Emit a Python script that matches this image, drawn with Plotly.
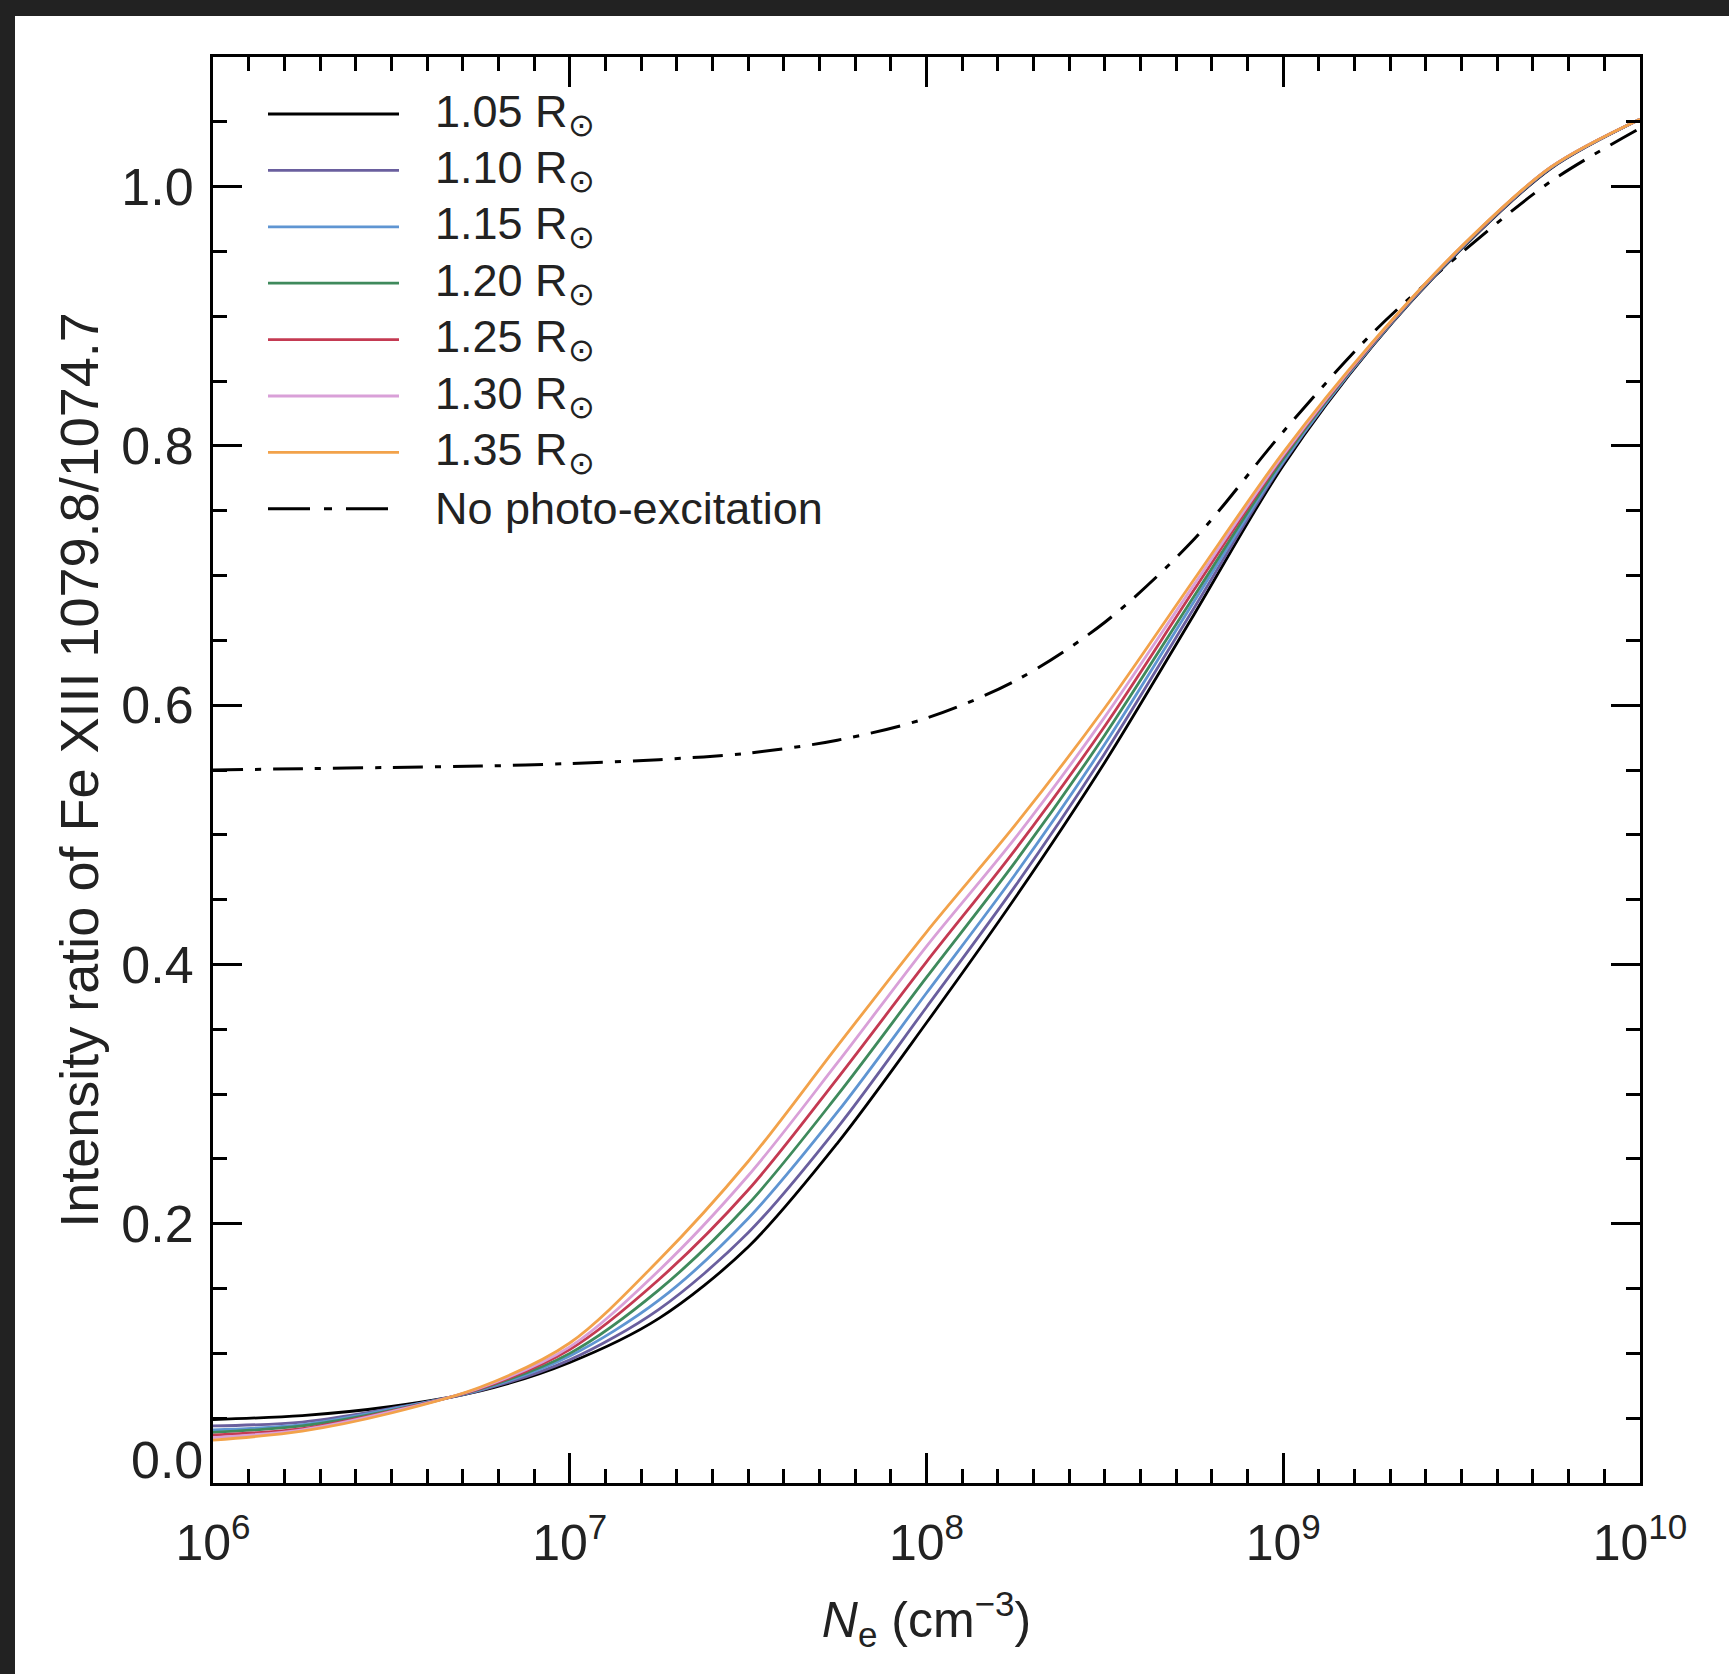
import plotly.graph_objects as go

# ---------------- data ----------------
log_ne = [6.0, 6.25, 6.5, 6.75, 7.0, 7.25, 7.5, 7.75, 8.0, 8.25, 8.5, 8.75, 9.0, 9.25, 9.5, 9.75, 10.0]

r105 = [0.049, 0.052, 0.059, 0.071, 0.093, 0.127, 0.182, 0.262, 0.355, 0.452, 0.556, 0.670, 0.785, 0.877, 0.952, 1.014, 1.052]
r110 = [0.044, 0.047, 0.0575, 0.0715, 0.095, 0.134, 0.193, 0.274, 0.367, 0.461, 0.563, 0.675, 0.787, 0.8775, 0.9525, 1.0143, 1.052]
r115 = [0.041, 0.045, 0.057, 0.072, 0.098, 0.141, 0.204, 0.286, 0.378, 0.470, 0.570, 0.680, 0.788, 0.878, 0.953, 1.0146, 1.052]
r120 = [0.039, 0.044, 0.056, 0.0725, 0.100, 0.149, 0.215, 0.299, 0.390, 0.4795, 0.577, 0.684, 0.790, 0.8785, 0.9533, 1.0148, 1.052]
r125 = [0.037, 0.042, 0.0555, 0.073, 0.103, 0.157, 0.226, 0.312, 0.402, 0.489, 0.584, 0.689, 0.792, 0.879, 0.9536, 1.015, 1.052]
r130 = [0.035, 0.041, 0.055, 0.0735, 0.105, 0.164, 0.237, 0.324, 0.414, 0.498, 0.591, 0.693, 0.793, 0.8795, 0.9538, 1.015, 1.052]
r135 = [0.033, 0.040, 0.054, 0.074, 0.108, 0.172, 0.248, 0.337, 0.425, 0.508, 0.598, 0.697, 0.795, 0.880, 0.954, 1.015, 1.052]
no_photo = [0.550, 0.551, 0.552, 0.553, 0.555, 0.558, 0.563, 0.573, 0.590, 0.619, 0.664, 0.728, 0.811, 0.887, 0.949, 1.004, 1.045]

series_names = ["1.05 R<sub>⊙</sub>", "1.10 R<sub>⊙</sub>", "1.15 R<sub>⊙</sub>", "1.20 R<sub>⊙</sub>",
                "1.25 R<sub>⊙</sub>", "1.30 R<sub>⊙</sub>", "1.35 R<sub>⊙</sub>"]
series_values = [r105, r110, r115, r120, r125, r130, r135]
series_colors = ["#000000", "#6a5f9e", "#5f95d2", "#3f8a5c", "#c43a52", "#d9a0d8", "#f2a24a"]
dash_name = "No photo-excitation"

x_tick_exps = [6, 7, 8, 9, 10]
y_tick_vals = [0.2, 0.4, 0.6, 0.8, 1.0]
y_tick_text = ["0.2", "0.4", "0.6", "0.8", "1.0"]

# ---------------- layout geometry ----------------
W, H = 1729, 1674
LM, RM, TM, BM = 213, 89, 57, 191
PW, PH = W - LM - RM, H - TM - BM
FONT = "Liberation Sans, Arial, Helvetica, sans-serif"
DASH = "30px,12px,6px,12px"


def px_x(px):
    return (px - LM) / PW


def px_y(py):
    return (H - BM - py) / PH


ne = [10 ** v for v in log_ne]

fig = go.Figure()
fig.add_trace(go.Scatter(x=ne, y=no_photo, mode="lines", name=dash_name, showlegend=False,
                         line=dict(color="black", width=3, dash=DASH, shape="spline", smoothing=0.9)))
for name, vals, col in zip(series_names, series_values, series_colors):
    fig.add_trace(go.Scatter(x=ne, y=vals, mode="lines", name=name, showlegend=False,
                             line=dict(color=col, width=2.8, shape="spline", smoothing=0.9)))

# minor ticks (uniform in log, IDL-style)
x_minor = [10 ** (e + k / 10) for e in range(6, 10) for k in range(1, 10)]

fig.update_xaxes(
    type="log", range=[6, 10],
    tickvals=[10 ** e for e in x_tick_exps],
    ticktext=[f"10<sup>{e}</sup>" for e in x_tick_exps],
    ticks="inside", ticklen=30, tickwidth=2.5, tickcolor="black",
    showline=True, linewidth=3, linecolor="black", mirror="ticks",
    showgrid=False, zeroline=False,
    tickfont=dict(family=FONT, size=50, color="#222"),
    ticklabelstandoff=14,
    minor=dict(tickvals=x_minor, ticks="inside", ticklen=14, tickwidth=2.5, tickcolor="black", showgrid=False),
    title=dict(text="<i>N</i><sub>e</sub> (cm<sup>−3</sup>)", font=dict(family=FONT, size=50, color="#222"), standoff=32),
)
fig.update_yaxes(
    range=[0, 1.1],
    tickvals=y_tick_vals, ticktext=y_tick_text,
    ticks="inside", ticklen=29, tickwidth=2.5, tickcolor="black",
    showline=True, linewidth=3, linecolor="black", mirror="ticks",
    showgrid=False, zeroline=False,
    tickfont=dict(family=FONT, size=52, color="#222"),
    ticklabelstandoff=6,
    minor=dict(dtick=0.05, tick0=0, ticks="inside", ticklen=14, tickwidth=2.5, tickcolor="black", showgrid=False),
    title=dict(text="Intensity ratio of Fe XIII 1079.8/1074.7", font=dict(family=FONT, size=54, color="#222"), standoff=6),
)

annotations = [
    dict(x=0, y=0, xref="paper", yref="y", text="0.0", showarrow=False, xanchor="right", yanchor="middle",
         xshift=-8, yshift=23, font=dict(family=FONT, size=52, color="#222")),
]
shapes = [
    # dark frame bands (top and left)
    dict(type="rect", xref="paper", yref="paper", x0=px_x(0), x1=px_x(W), y0=px_y(16), y1=px_y(0),
         fillcolor="#222222", line=dict(width=0), layer="above"),
    dict(type="rect", xref="paper", yref="paper", x0=px_x(0), x1=px_x(15), y0=px_y(H), y1=px_y(0),
         fillcolor="#222222", line=dict(width=0), layer="above"),
]

# manual legend (long line samples like the reference)
row0, dy = 114, 56.4
for i, (name, col) in enumerate(zip(series_names, series_colors)):
    yy = px_y(row0 + i * dy)
    shapes.append(dict(type="line", xref="paper", yref="paper", x0=px_x(268), x1=px_x(399), y0=yy, y1=yy,
                       line=dict(color=col, width=2.8)))
    annotations.append(dict(x=px_x(433), y=yy, xref="paper", yref="paper", text=name, showarrow=False,
                            xanchor="left", yanchor="middle", font=dict(family=FONT, size=45, color="#222")))
yy = px_y(row0 + 7 * dy)
shapes.append(dict(type="line", xref="paper", yref="paper", x0=px_x(268), x1=px_x(399), y0=yy, y1=yy,
                   line=dict(color="black", width=3, dash="42px,14px,8px,14px")))
annotations.append(dict(x=px_x(433), y=yy, xref="paper", yref="paper", text=dash_name, showarrow=False,
                        xanchor="left", yanchor="middle", font=dict(family=FONT, size=45, color="#222")))

fig.update_layout(
    width=W, height=H,
    margin=dict(l=LM, r=RM, t=TM, b=BM, pad=0),
    paper_bgcolor="white", plot_bgcolor="white",
    showlegend=False,
    annotations=annotations, shapes=shapes,
    font=dict(family=FONT, color="#222"),
)

fig.write_html("out.html", config={"displayModeBar": False},
               post_script="document.body.style.margin='0';document.body.style.overflow='hidden';")
